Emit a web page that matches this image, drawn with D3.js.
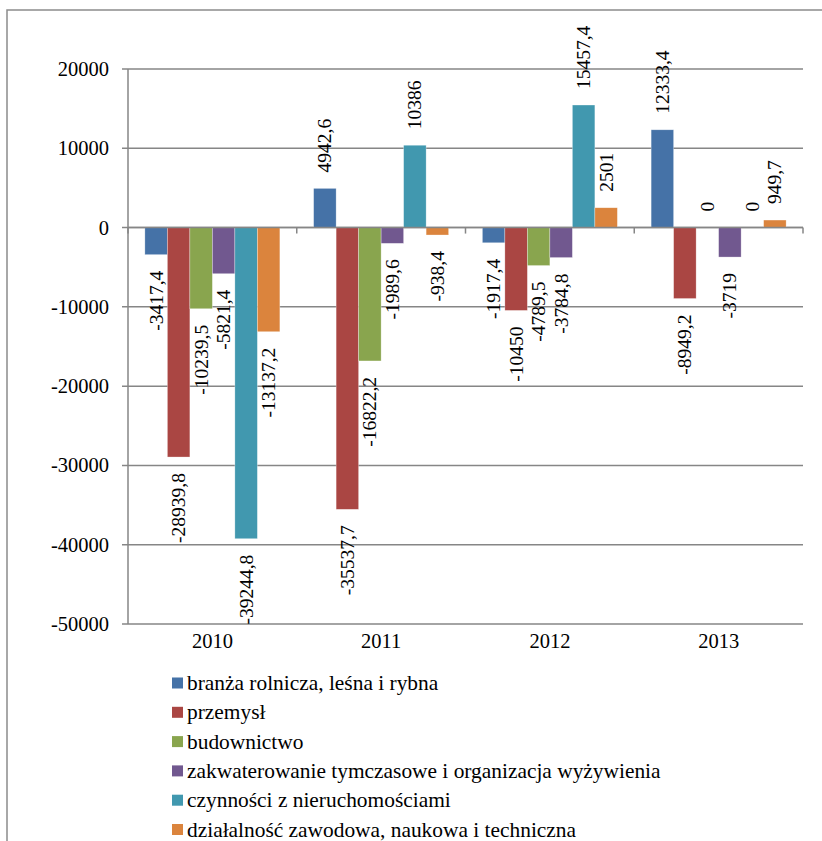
<!DOCTYPE html>
<html>
<head>
<meta charset="utf-8">
<script src="https://cdn.jsdelivr.net/npm/d3@7"></script>
<style>
  html, body { margin: 0; padding: 0; background: #fff; }
  svg { display: block; }
</style>
</head>
<body>
<svg id="chart" width="822" height="841"></svg>
<script>
const years = ["2010", "2011", "2012", "2013"];
const seriesNames = [
  "branża rolnicza, leśna i rybna",
  "przemysł",
  "budownictwo",
  "zakwaterowanie tymczasowe i organizacja wyżywienia",
  "czynności z nieruchomościami",
  "działalność zawodowa, naukowa i techniczna"
];
const rolnicza      = [-3417.4,   4942.6, -1917.4, 12333.4];
const przemysl      = [-28939.8, -35537.7, -10450,  -8949.2];
const budownictwo   = [-10239.5, -16822.2, -4789.5,  0];
const zakwaterowanie= [-5821.4,  -1989.6,  -3784.8, -3719];
const nieruchomosci = [-39244.8,  10386,   15457.4,  0];
const dzialalnosc   = [-13137.2,  -938.4,   2501,    949.7];
const seriesValues = [rolnicza, przemysl, budownictwo, zakwaterowanie, nieruchomosci, dzialalnosc];
const yTicks = [-50000, -40000, -30000, -20000, -10000, 0, 10000, 20000];
const colors = ["#4572A7", "#AA4643", "#89A54E", "#71588F", "#4198AF", "#DB843D"];

const FONT = "'Liberation Serif', 'DejaVu Serif', serif";
const svg = d3.select("#chart").attr("font-family", FONT);
const plot = { left: 128, right: 803, top: 69, bottom: 624 };
const gridColor = "#868686";

// outer frame (partially cropped)
svg.append("rect")
  .attr("x", 7).attr("y", 10).attr("width", 840).attr("height", 860)
  .attr("fill", "none").attr("stroke", "#8c8c8c").attr("stroke-width", 1.5);

const y = d3.scaleLinear().domain([-50000, 20000]).range([plot.bottom, plot.top]);
const x0 = d3.scaleBand().domain(years).range([plot.left, plot.right]).padding(0);
const x1 = d3.scaleBand().domain(d3.range(seriesNames.length))
  .range([0, x0.bandwidth()]).paddingInner(0).paddingOuter(0.75);

// gridlines
svg.append("g").selectAll("line").data(yTicks).join("line")
  .attr("x1", plot.left - 6).attr("x2", plot.right)
  .attr("y1", d => y(d)).attr("y2", d => y(d))
  .attr("stroke", gridColor).attr("stroke-width", 1.5);

// y axis line
svg.append("line")
  .attr("x1", plot.left).attr("x2", plot.left)
  .attr("y1", plot.top).attr("y2", plot.bottom)
  .attr("stroke", gridColor).attr("stroke-width", 1.5);

// y tick labels
svg.append("g").selectAll("text").data(yTicks).join("text")
  .attr("x", plot.left - 19).attr("y", d => y(d))
  .attr("text-anchor", "end").attr("dominant-baseline", "central")
  .attr("font-family", FONT)
  .style("font-size", "20.5px")
  .text(d => d3.format("")(d).replace("−", "-"));

// bars
const loc = d3.formatLocale({ decimal: ",", thousands: "", grouping: [3], currency: ["", ""], minus: "-" });
const fmt = loc.format("");

const groups = svg.append("g").selectAll("g").data(years).join("g")
  .attr("transform", d => `translate(${x0(d)},0)`);

groups.selectAll("rect")
  .data((yr, i) => seriesValues.map((vals, s) => ({ s, v: vals[i] })))
  .join("rect")
  .attr("x", d => x1(d.s))
  .attr("width", x1.bandwidth())
  .attr("y", d => y(Math.max(0, d.v)))
  .attr("height", d => Math.abs(y(d.v) - y(0)))
  .attr("fill", d => colors[d.s])
  .attr("stroke", "rgba(255,255,255,0.5)").attr("stroke-width", 0.6);

// x axis line at zero with boundary ticks
svg.append("line")
  .attr("x1", plot.left).attr("x2", plot.right)
  .attr("y1", y(0)).attr("y2", y(0))
  .attr("stroke", gridColor).attr("stroke-width", 1.5);
const bounds = years.map(d => x0(d)).concat([plot.right]);
svg.append("g").selectAll("line").data(bounds).join("line")
  .attr("x1", d => d).attr("x2", d => d)
  .attr("y1", y(0)).attr("y2", y(0) + 6)
  .attr("stroke", gridColor).attr("stroke-width", 1.5);

// category labels
svg.append("g").selectAll("text").data(years).join("text")
  .attr("x", d => x0(d) + x0.bandwidth() / 2)
  .attr("y", plot.bottom + 24)
  .attr("text-anchor", "middle")
  .attr("font-family", FONT)
  .style("font-size", "20.5px")
  .text(d => d);

// data labels (rotated)
const gap = 16;
groups.selectAll("text.lbl")
  .data((yr, i) => seriesValues.map((vals, s) => ({ s, v: vals[i] })))
  .join("text")
  .attr("class", "lbl")
  .attr("transform", d => {
    const cx = x1(d.s) + x1.bandwidth() / 2;
    const cy = d.v < 0 ? y(d.v) + gap : y(d.v) - gap;
    return `translate(${cx},${cy}) rotate(-90)`;
  })
  .attr("text-anchor", d => d.v < 0 ? "end" : "start")
  .attr("dominant-baseline", "central")
  .attr("font-family", FONT)
  .style("font-size", "19.5px")
  .text(d => fmt(d.v));

// legend
const legend = svg.append("g").selectAll("g").data(seriesNames).join("g")
  .attr("transform", (d, i) => `translate(172,${683 + i * 29.3})`);
legend.append("rect")
  .attr("x", 0).attr("y", -5.5).attr("width", 11).attr("height", 11)
  .attr("fill", (d, i) => colors[i]);
legend.append("text")
  .attr("x", 15).attr("y", 0)
  .attr("dominant-baseline", "central")
  .attr("font-family", FONT)
  .style("font-size", "21.4px")
  .text(d => d);
</script>
</body>
</html>
